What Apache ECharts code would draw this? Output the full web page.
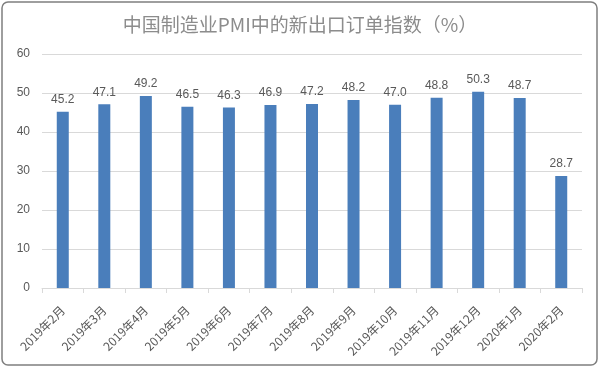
<!DOCTYPE html>
<html><head><meta charset="utf-8">
<script src="https://cdn.jsdelivr.net/npm/echarts@6/dist/echarts.min.js"></script>
<style>html,body{margin:0;padding:0;background:#fff}#c{width:600px;height:369px}</style>
</head><body><div id="c"></div>
<script>
var categories = ['2019年2月','2019年3月','2019年4月','2019年5月','2019年6月','2019年7月','2019年8月','2019年9月','2019年10月','2019年11月','2019年12月','2020年1月','2020年2月'];
var values = [45.2,47.1,49.2,46.5,46.3,46.9,47.2,48.2,47.0,48.8,50.3,48.7,28.7];
var yTicks = [0,10,20,30,40,50,60];
var chart = echarts.init(document.getElementById('c'));
chart.setOption({
  backgroundColor:'#fff',
  title:{text:'中国制造业PMI中的新出口订单指数（%）',left:'center',top:10,
    textStyle:{fontFamily:'Noto Sans CJK SC',fontSize:19,fontWeight:'normal',color:'#8c8c8c'}},
  graphic:[{type:'rect',shape:{x:2,y:2,width:595,height:363,r:6},style:{fill:'none',stroke:'#7f7f7f',lineWidth:1.5},silent:true}],
  grid:{left:42,right:18,top:54,bottom:81},
  xAxis:{type:'category',data:categories,
    axisLine:{lineStyle:{color:'#d9d9d9'}},
    axisTick:{show:true,length:5,lineStyle:{color:'#d9d9d9'}},
    axisLabel:{rotate:45,color:'#595959',fontSize:12,fontFamily:'Noto Sans CJK SC',margin:20}},
  yAxis:{type:'value',min:yTicks[0],max:yTicks[yTicks.length-1],interval:10,
    axisLine:{show:false},axisTick:{show:false},
    axisLabel:{color:'#595959',fontSize:12,fontFamily:'Liberation Sans',margin:12},
    splitLine:{lineStyle:{color:'#d9d9d9'}}},
  series:[{type:'bar',data:values,barWidth:12,
    itemStyle:{color:'#4a7ebb'},
    label:{show:true,position:'top',color:'#595959',fontSize:12,fontFamily:'Liberation Sans',distance:6,
      formatter:function(p){return p.value.toFixed(1);}}}]
});
</script></body></html>
